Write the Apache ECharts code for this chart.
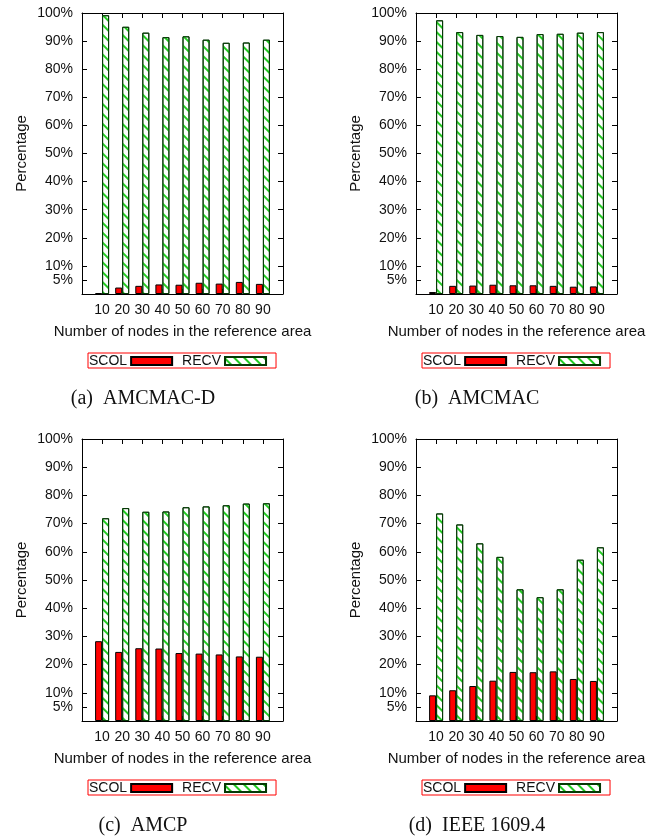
<!DOCTYPE html>
<html>
<head>
<meta charset="utf-8">
<script src="https://cdn.jsdelivr.net/npm/echarts@6/dist/echarts.min.js"></script>
<style>
html,body{margin:0;padding:0;background:#fff;}
#chart{width:660px;height:839px;}
</style>
</head>
<body>
<div id="chart"></div>
<script>
// ---- data ----
const categories = ['10', '20', '30', '40', '50', '60', '70', '80', '90'];
const yTickValues = [5, 10, 20, 30, 40, 50, 60, 70, 80, 90, 100];
const captions = ['(a)  AMCMAC-D', '(b)  AMCMAC', '(c)  AMCP', '(d)  IEEE 1609.4'];
const seriesNames = ['SCOL', 'RECV'];

const scolA = [0.3, 2.3, 2.9, 3.4, 3.3, 4.0, 3.7, 4.3, 3.6];
const recvA = [99.2, 95.1, 93.0, 91.4, 91.7, 90.5, 89.4, 89.5, 90.5];
const scolB = [0.7, 2.9, 3.0, 3.3, 3.1, 3.1, 2.9, 2.6, 2.7];
const recvB = [97.4, 93.2, 92.2, 91.8, 91.5, 92.5, 92.6, 93.0, 93.2];
const scolC = [28.3, 24.5, 25.8, 25.7, 24.1, 23.9, 23.6, 22.9, 22.8];
const recvC = [71.9, 75.5, 74.2, 74.3, 75.8, 76.1, 76.5, 77.1, 77.2];
const scolD = [9.1, 10.9, 12.4, 14.3, 17.4, 17.3, 17.6, 14.9, 14.2];
const recvD = [73.6, 69.7, 63.0, 58.2, 46.7, 43.9, 46.7, 57.2, 61.6];

const panels = [
  { scol: scolA, recv: recvA },
  { scol: scolB, recv: recvB },
  { scol: scolC, recv: recvC },
  { scol: scolD, recv: recvD }
];

// ---- layout ----
const grids = [
  { left: 82, top: 13, width: 201, height: 281 },
  { left: 416, top: 13, width: 201, height: 281 },
  { left: 82, top: 439, width: 201, height: 282 },
  { left: 416, top: 439, width: 201, height: 282 }
];
const legendPos = [
  { left: 88, top: 353 }, { left: 422, top: 353 },
  { left: 88, top: 780 }, { left: 422, top: 780 }
];
const captionPos = [
  { x: 143, y: 389 }, { x: 477, y: 389 },
  { x: 143, y: 816 }, { x: 477, y: 816 }
];

const catIdx = categories.map((c, i) => i);
const txt = '#111';
const sans = 'Liberation Sans, Arial, Helvetica, sans-serif';
const lineSt = { show: true, onZero: false, lineStyle: { color: '#000', width: 1 } };

const xAxes = [], yAxes = [], series = [], legends = [], titles = [];

grids.forEach((g, gi) => {
  xAxes.push({
    type: 'value', gridIndex: gi, position: 'bottom', min: -1, max: 9,
    axisLine: lineSt,
    axisTick: { show: true, inside: true, length: 5, customValues: catIdx, lineStyle: { color: '#000' } },
    axisLabel: { show: true, customValues: catIdx, formatter: v => categories[v] || '',
      fontFamily: sans, fontSize: 14, color: txt, margin: 9 },
    splitLine: { show: false },
    name: 'Number of nodes in the reference area', nameLocation: 'middle', nameGap: 30,
    nameTextStyle: { fontFamily: sans, fontSize: 15, color: txt }
  });
  xAxes.push({
    type: 'value', gridIndex: gi, position: 'top', min: -1, max: 9,
    axisLine: lineSt,
    axisTick: { show: true, inside: true, length: 5, customValues: catIdx, lineStyle: { color: '#000' } },
    axisLabel: { show: false }, splitLine: { show: false }
  });
  yAxes.push({
    type: 'value', gridIndex: gi, position: 'left', min: 0, max: 100,
    axisLine: lineSt,
    axisTick: { show: true, inside: true, length: 5, customValues: yTickValues, lineStyle: { color: '#000' } },
    axisLabel: { show: true, customValues: yTickValues, formatter: v => v + '%',
      fontFamily: sans, fontSize: 14, color: txt, margin: 9 },
    splitLine: { show: false },
    name: 'Percentage', nameLocation: 'middle', nameGap: 53, nameRotate: 90,
    nameTextStyle: { fontFamily: sans, fontSize: 15, color: txt }
  });
  yAxes.push({
    type: 'value', gridIndex: gi, position: 'right', min: 0, max: 100,
    axisLine: lineSt,
    axisTick: { show: true, inside: true, length: 5, customValues: yTickValues, lineStyle: { color: '#000' } },
    axisLabel: { show: false }, splitLine: { show: false }
  });

  const p = panels[gi];
  series.push({
    name: seriesNames[0], type: 'bar', xAxisIndex: gi * 2, yAxisIndex: gi * 2,
    data: p.scol.map((v, i) => [i, v]),
    barWidth: 7, barGap: '0%',
    itemStyle: { color: '#ff0000', borderColor: '#000', borderWidth: 1 },
    animation: false
  });
  series.push({
    name: seriesNames[1], type: 'bar', xAxisIndex: gi * 2, yAxisIndex: gi * 2,
    data: p.recv.map((v, i) => [i, v]),
    barWidth: 7, barGap: '0%',
    itemStyle: {
      color: '#ffffff', borderColor: '#053805', borderWidth: 1,
      decal: { symbol: 'rect', symbolSize: 1, color: '#22cc22',
        dashArrayX: [1, 0], dashArrayY: [1.2, 4.3], rotation: Math.PI / 4 }
    },
    animation: false
  });

  legends.push({
    left: legendPos[gi].left, top: legendPos[gi].top,
    orient: 'horizontal', align: 'right', selectedMode: false,
    data: seriesNames, icon: 'rect', itemWidth: 41, itemHeight: 8, itemGap: 9,
    borderColor: '#ff0000', borderWidth: 1, padding: [1, 9, 0, 1],
    textStyle: { fontFamily: sans, fontSize: 14, color: txt, padding: [0, -1, 0, 0] }
  });

  titles.push({
    text: captions[gi], left: captionPos[gi].x, top: captionPos[gi].y, textAlign: 'center',
    padding: 0,
    textStyle: { fontFamily: 'Liberation Serif, Times New Roman, serif', fontSize: 20,
      fontWeight: 'normal', color: '#111' }
  });
});

const chart = echarts.init(document.getElementById('chart'), null, { renderer: 'canvas' });
chart.setOption({
  animation: false,
  backgroundColor: '#fff',
  title: titles,
  legend: legends,
  grid: grids,
  xAxis: xAxes,
  yAxis: yAxes,
  series: series
});
</script>
</body>
</html>
